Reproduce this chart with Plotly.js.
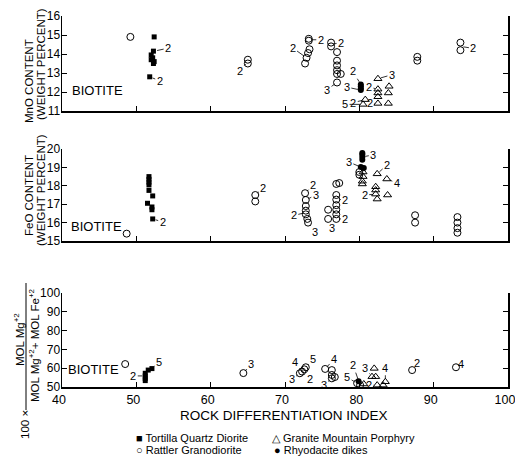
<!DOCTYPE html>
<html><head><meta charset="utf-8">
<script src="https://cdn.plot.ly/plotly-3.0.1.min.js"></script>
<style>html,body{margin:0;padding:0;background:#fff}#chart{width:515px;height:461px}</style>
</head><body><div id="chart"></div>
<script>
// ---------- DATA ----------
const xTickVals = [40, 50, 60, 70, 80, 90, 100];
const mnoTicks = [11, 12, 13, 14, 15, 16];
const feoTicks = [15, 16, 17, 18, 19, 20];
const mgTicks = [50, 60, 70, 80, 90, 100];
const seriesNames = ["Tortilla Quartz Diorite", "Rattler Granodiorite", "Granite Mountain Porphyry", "Rhyodacite dikes"];

// MnO panel
const mnoTortillaX = [52.4, 52.3, 52.0, 52.2, 52.0, 52.4, 52.3, 51.8];
const mnoTortillaY = [14.9, 14.15, 13.95, 13.8, 13.7, 13.6, 13.5, 12.8];
const mnoRattlerX = [49.2, 65.0, 65.0, 73.2, 73.2, 72.7, 72.9, 73.1, 73.3, 76.2, 76.2, 77.0, 77.0, 77.0, 77.0, 77.0, 77.5, 77.0, 87.8, 87.8, 93.6, 93.6];
const mnoRattlerY = [14.9, 13.7, 13.5, 14.8, 14.7, 13.5, 13.8, 14.05, 14.25, 14.6, 14.4, 14.1, 13.65, 13.4, 13.15, 12.95, 12.95, 12.5, 13.85, 13.65, 14.6, 14.2];
const mnoGraniteX = [82.5, 84.0, 82.5, 82.5, 83.9, 82.5, 82.5, 83.9, 80.8, 80.5];
const mnoGraniteY = [12.7, 12.3, 12.15, 11.95, 11.95, 11.75, 11.4, 11.4, 11.6, 11.35];
const mnoRhyoX = [80.2, 80.2, 80.2, 80.2];
const mnoRhyoY = [12.4, 12.3, 12.2, 12.1];

// FeO panel
const feoTortillaX = [51.7, 51.7, 51.7, 51.7, 51.7, 52.2, 51.5, 52.1, 52.1, 52.2];
const feoTortillaY = [18.5, 18.35, 18.2, 18.05, 17.75, 17.45, 17.05, 16.85, 16.7, 16.2];
const feoRattlerX = [48.7, 66.0, 66.0, 72.7, 72.8, 72.8, 72.8, 72.8, 73.0, 73.1, 76.9, 77.3, 76.9, 76.9, 76.9, 76.9, 76.9, 76.9, 75.8, 75.8, 80.0, 80.0, 87.5, 87.5, 93.2, 93.2, 93.2, 93.2];
const feoRattlerY = [15.4, 17.5, 17.15, 17.6, 17.23, 16.9, 16.65, 16.45, 16.2, 16.0, 18.1, 18.15, 17.5, 17.25, 16.95, 16.7, 16.45, 16.2, 16.7, 16.2, 18.75, 18.6, 16.4, 16.0, 16.3, 16.0, 15.7, 15.45];
const feoGraniteX = [80.5, 80.5, 80.4, 80.4, 82.4, 83.7, 82.2, 82.2, 82.2, 82.4, 83.8];
const feoGraniteY = [18.75, 18.5, 18.25, 18.1, 18.65, 18.37, 17.95, 17.77, 17.55, 17.28, 17.5];
const feoRhyoX = [80.4, 80.4, 80.4, 80.4, 80.2, 80.6];
const feoRhyoY = [19.78, 19.7, 19.57, 19.42, 19.02, 18.97];

// Mg/(Mg+Fe) panel
const mgTortillaX = [51.2, 51.2, 51.2, 51.2, 51.6, 52.1];
const mgTortillaY = [57.3, 55.9, 54.6, 53.4, 59.0, 59.8];
const mgRattlerX = [48.5, 64.4, 72.0, 72.3, 72.6, 72.8, 75.4, 76.3, 76.3, 76.3, 76.7, 79.7, 80.1, 87.1, 93.0];
const mgRattlerY = [62.2, 57.4, 57.3, 58.2, 59.4, 60.5, 59.6, 59.0, 56.4, 54.6, 55.3, 52.0, 51.0, 59.0, 60.5];
const mgGraniteX = [82.0, 81.7, 82.2, 82.4, 83.2, 83.5, 80.6];
const mgGraniteY = [59.9, 55.5, 55.5, 51.0, 51.0, 52.8, 51.6];
const mgRhyoX = [79.9];
const mgRhyoY = [53.0];

// multiplicity labels: point x, point y, text
const mnoLabelX = [52.4, 51.8, 65.0, 73.2, 72.9, 76.2, 77.0, 80.2, 80.2, 80.8, 80.5, 82.5, 82.5, 82.5, 93.6];
const mnoLabelY = [14.15, 12.8, 13.6, 14.75, 13.8, 14.5, 12.5, 12.4, 12.1, 11.6, 11.35, 12.7, 12.15, 11.4, 14.4];
const mnoLabelText = ["2", "2", "2", "2", "2", "2", "3", "2", "3", "2", "5", "3", "2", "2", "2"];
const feoLabelX = [52.2, 66.0, 72.7, 72.8, 72.8, 73.1, 76.9, 76.9, 75.8, 80.4, 80.2, 82.4, 83.7, 82.2];
const feoLabelY = [16.2, 17.5, 17.6, 17.23, 16.55, 16.0, 17.25, 16.2, 16.2, 19.57, 19.02, 18.65, 18.37, 17.55];
const feoLabelText = ["2", "2", "2", "3", "2", "3", "2", "2", "3", "3", "3", "2", "4", "2"];
const mgLabelX = [51.2, 52.1, 64.4, 72.3, 72.8, 72.0, 72.6, 75.4, 76.3, 79.7, 80.1, 81.7, 83.5, 82.4, 87.1, 93.0];
const mgLabelY = [55.9, 59.8, 57.4, 58.2, 60.5, 57.3, 59.4, 59.6, 54.6, 52.0, 51.0, 55.5, 52.8, 51.0, 59.0, 60.5];
const mgLabelText = ["2", "5", "3", "4", "5", "3", "2", "4", "3", "5", "2", "3", "4", "2", "2", "4"];

// ---------- STYLE / LAYOUT (label text offsets in px) ----------
const mnoLabelOff = [[14,-3],[10,4],[-8,9],[12,0],[-14,-10],[10,-2],[-10,7],[-8,-13],[-14,-3],[-12,3],[-18,0],[14,-4],[-9,-2],[-8,0],[13,2]];
const feoLabelOff = [[10,3],[8,-7],[8,-8],[10,-5],[-12,3],[7,9],[9,0],[9,0],[4,9],[11,-2],[-12,-5],[10,-9],[10,4],[-11,1]];
const mgLabelOff = [[-12,0],[7,-7],[8,-9],[-7,-10],[7,-8],[-8,6],[6,10],[9,-10],[-8,7],[-10,-6],[-7,-20],[-7,-9],[0,-14],[-8,0],[5,-7],[5,-3]];

const styles = [
  {symbol: 'square', size: 5, color: '#000', line: {width: 0}},
  {symbol: 'circle-open', size: 7, color: '#000', line: {width: 1, color: '#000'}},
  {symbol: 'triangle-up-open', size: 7, color: '#000', line: {width: 1, color: '#000'}},
  {symbol: 'circle', size: 6, color: '#000', line: {width: 0}}
];

function mk(xs, ys, i, xa, ya) {
  return {x: xs, y: ys, type: 'scatter', mode: 'markers', name: seriesNames[i],
    xaxis: xa, yaxis: ya, showlegend: false, marker: styles[i], cliponaxis: false, hoverinfo: 'x+y'};
}

const data = [
  mk(mnoTortillaX, mnoTortillaY, 0, 'x3', 'y3'),
  mk(mnoRattlerX, mnoRattlerY, 1, 'x3', 'y3'),
  mk(mnoGraniteX, mnoGraniteY, 2, 'x3', 'y3'),
  mk(mnoRhyoX, mnoRhyoY, 3, 'x3', 'y3'),
  mk(feoTortillaX, feoTortillaY, 0, 'x2', 'y2'),
  mk(feoRattlerX, feoRattlerY, 1, 'x2', 'y2'),
  mk(feoGraniteX, feoGraniteY, 2, 'x2', 'y2'),
  mk(feoRhyoX, feoRhyoY, 3, 'x2', 'y2'),
  mk(mgTortillaX, mgTortillaY, 0, 'x', 'y'),
  mk(mgRattlerX, mgRattlerY, 1, 'x', 'y'),
  mk(mgGraniteX, mgGraniteY, 2, 'x', 'y'),
  mk(mgRhyoX, mgRhyoY, 3, 'x', 'y')
];

const FONT = 'Liberation Sans, Arial, sans-serif';
const axisCommon = {
  showgrid: false, zeroline: false, showline: true, linecolor: '#000', linewidth: 1.5,
  ticks: 'inside', ticklen: 5, tickwidth: 1, tickcolor: '#000',
  tickfont: {family: FONT, size: 12, color: '#000'}, fixedrange: true
};
function xax(anchor, show) {
  return Object.assign({}, axisCommon, {range: [40, 100], tickvals: xTickVals, anchor: anchor,
    showticklabels: show, mirror: false, ticklabeloverflow: 'allow', ticklabelshift: -3,
    tickfont: {family: FONT, size: 12.5, color: '#000'}});
}
function yax(range, ticks, domain, anchor) {
  return Object.assign({}, axisCommon, {range: range, tickvals: ticks, domain: domain, anchor: anchor,
    mirror: 'ticks', ticklabelstandoff: -2});
}

// pixel helpers for paper coords: plot area px x 62..508, y 16..387
const px = p => (p - 62) / 446;
const py = p => (387 - p) / 371;

const annotations = [];
function addLabels(xs, ys, ts, offs, xref, yref) {
  for (let i = 0; i < xs.length; i++) {
    annotations.push({x: xs[i], y: ys[i], xref: xref, yref: yref, text: ts[i],
      showarrow: true, arrowhead: 0, arrowwidth: 0.8, arrowcolor: '#000', standoff: 3,
      ax: offs[i][0], ay: offs[i][1], font: {family: FONT, size: 11, color: '#000'}});
  }
}
addLabels(mnoLabelX, mnoLabelY, mnoLabelText, mnoLabelOff, 'x3', 'y3');
addLabels(feoLabelX, feoLabelY, feoLabelText, feoLabelOff, 'x2', 'y2');
addLabels(mgLabelX, mgLabelY, mgLabelText, mgLabelOff, 'x', 'y');

function txt(text, x, y, opts) {
  annotations.push(Object.assign({text: text, x: x, y: y, xref: 'paper', yref: 'paper', showarrow: false,
    xanchor: 'center', yanchor: 'middle', font: {family: FONT, size: 12, color: '#000'}}, opts || {}));
}
const tf = {family: FONT, size: 11.5, color: '#000'};
// BIOTITE tags
txt('BIOTITE', px(70), py(91), {xanchor: 'left', font: {family: FONT, size: 13, color: '#000'}});
txt('BIOTITE', px(69), py(226), {xanchor: 'left', font: {family: FONT, size: 13, color: '#000'}});
txt('BIOTITE', px(66), py(369), {xanchor: 'left', font: {family: FONT, size: 13, color: '#000'}});
// y titles
txt('MnO CONTENT', px(29), py(81), {textangle: -90, font: tf});
txt('(WEIGHT PERCENT)', px(41), py(64), {textangle: -90, font: tf});
txt('FeO CONTENT', px(29), py(196), {textangle: -90, font: tf});
txt('(WEIGHT PERCENT)', px(41), py(190), {textangle: -90, font: tf});
txt('MOL Mg<sup>+2</sup>', px(19), py(340), {textangle: -90, font: tf});
txt('MOL Mg<sup>+2</sup>+ MOL Fe<sup>+2</sup>', px(34), py(345), {textangle: -90, font: tf});
txt('100 ×', px(25), py(425), {textangle: -90, font: tf});
// x title
txt('ROCK DIFFERENTIATION INDEX', px(284), py(416), {font: {family: FONT, size: 13.5, color: '#000'}});
// legend as text
const lf = {family: FONT, size: 11, color: '#000'};
txt('■ Tortilla Quartz Diorite', px(134), py(438), {xanchor: 'left', font: lf});
txt('△ Granite Mountain Porphyry', px(270), py(438), {xanchor: 'left', font: lf});
txt('○ Rattler Granodiorite', px(134), py(450), {xanchor: 'left', font: lf});
txt('● Rhyodacite dikes', px(272), py(450), {xanchor: 'left', font: lf});

const layout = {
  width: 515, height: 461,
  margin: {l: 62, r: 7, t: 16, b: 74},
  paper_bgcolor: '#fff', plot_bgcolor: '#fff',
  showlegend: false,
  font: {family: FONT, color: '#000'},
  xaxis: xax('y', true),
  xaxis2: xax('y2', false),
  xaxis3: xax('y3', false),
  yaxis: yax([50, 100], mgTicks, [0, 0.2534], 'x'),
  yaxis2: yax([15, 20], feoTicks, [0.3935, 0.6415], 'x2'),
  yaxis3: yax([11, 16], mnoTicks, [0.7439, 1], 'x3'),
  annotations: annotations,
  shapes: [{type: 'line', xref: 'paper', yref: 'paper', x0: px(26), x1: px(26), y0: py(283), y1: py(410),
    line: {color: '#000', width: 1}}]
};

Plotly.newPlot('chart', data, layout, {displayModeBar: false, staticPlot: true});
</script></body></html>
